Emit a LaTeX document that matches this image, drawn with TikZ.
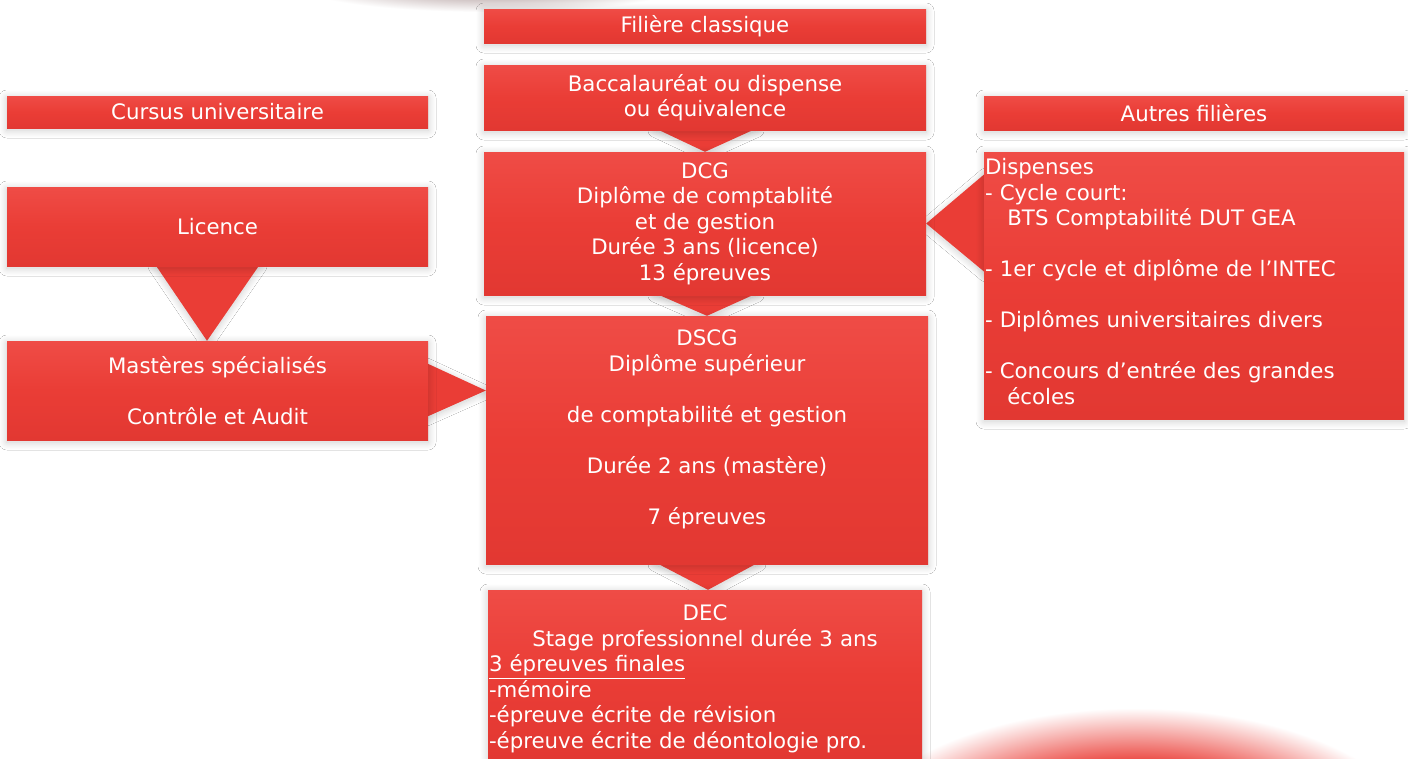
\documentclass[tikz,border=0pt]{standalone}
\usepackage{fontspec}
\setmainfont{DejaVu Sans}
\usetikzlibrary{calc,shadows.blur}
\definecolor{boxred}{RGB}{234,61,54}
\definecolor{boxtop}{RGB}{239,76,70}
\definecolor{boxbot}{RGB}{226,56,50}
\definecolor{topgray}{RGB}{205,192,192}
\pgfdeclareradialshading{glow}{\pgfpoint{0bp}{0bp}}{color(0bp)=(boxred); color(15bp)=(boxred); color(25bp)=(white); color(50bp)=(white)}
\pgfdeclareradialshading{topshade}{\pgfpoint{0bp}{0bp}}{color(0bp)=(topgray); color(12bp)=(topgray); color(25bp)=(white); color(50bp)=(white)}
\begin{document}
\begin{tikzpicture}[x=1pt,y=-1pt,
  box/.style={rectangle, inner sep=0pt, text=white,
    font=\fontsize{21.3}{25.5}\selectfont, align=center,
    top color=boxtop, bottom color=boxbot, middle color=boxred,
    blur shadow={shadow xshift=0pt, shadow yshift=-2pt, shadow blur radius=8pt, shadow opacity=20, shadow blur steps=24}},
  arr/.style={fill=boxred,
    blur shadow={shadow xshift=0pt, shadow yshift=-2pt, shadow blur radius=7pt, shadow opacity=20, shadow blur steps=20}}]
\fill[white] (0,0) rectangle (1408,758);
\useasboundingbox (0,0) rectangle (1408,758);
% background glows
\shade[shading=topshade] (490,-14) ellipse [x radius=190pt, y radius=26pt];
\shade[shading=glow] (1135,850) ellipse [x radius=290pt, y radius=142pt];

% box positions
\path
  (705,26)    coordinate (pfil)
  (705,97.5)  coordinate (pbac)
  (217.5,112) coordinate (pcur)
  (1194,113)  coordinate (paut)
  (705,223.5) coordinate (pdcg)
  (217.5,226.5) coordinate (plic)
  (217.5,390.5) coordinate (pmas)
  (707,440)   coordinate (pdscg)
  (1194,285.5) coordinate (pdisp)
  (705,675)   coordinate (pdec);

% invisible placeholders to get anchors for the arrows
\begin{scope}[every node/.style={rectangle, inner sep=0pt}]
\node[minimum width=442pt, minimum height=65pt] (bac0) at (pbac) {};
\node[minimum width=442pt, minimum height=143pt] (dcg0) at (pdcg) {};
\node[minimum width=421pt, minimum height=79pt] (lic0) at (plic) {};
\node[minimum width=421pt, minimum height=99pt] (mas0) at (pmas) {};
\node[minimum width=442pt, minimum height=248pt] (dscg0) at (pdscg) {};
\node[minimum width=420pt, minimum height=267pt] (disp0) at (pdisp) {};
\node[minimum width=434pt, minimum height=170pt] (dec0) at (pdec) {};
\end{scope}

% arrow triangles
\fill[arr] ($(bac0.south)+(-50,-2)$) -- ($(bac0.south)+(52,-2)$) -- (dcg0.north) -- cycle;
\fill[arr] ($(dcg0.south)+(-50,-2)$) -- ($(dcg0.south)+(52,-2)$) -- (dscg0.north) -- cycle;
\fill[arr] ($(dscg0.south)+(-52,-2)$) -- ($(dscg0.south)+(52,-2)$) -- ($(dec0.north)+(3,0)$) -- cycle;
\fill[arr] ($(lic0.south)+(-62.5,-2)$) -- ($(lic0.south)+(42.5,-2)$) -- ($(mas0.north)+(-10.5,0)$) -- cycle;
\fill[arr] ($(mas0.east)+(-2,-27.5)$) -- ($(mas0.east)+(-2,26.5)$) -- (mas0.east -| dscg0.west) -- cycle;
\fill[arr] ($(dcg0.east -| disp0.west)+(2,-50.5)$) -- ($(dcg0.east -| disp0.west)+(2,49.5)$) -- (dcg0.east) -- cycle;

% boxes
\node[box, minimum width=442pt, minimum height=34pt] (fil) at (pfil) {Filière classique};
\node[box, minimum width=442pt, minimum height=65pt] (bac) at (pbac) {Baccalauréat ou dispense\\ou équivalence};
\node[box, minimum width=421pt, minimum height=32pt] (cur) at (pcur) {Cursus universitaire};
\node[box, minimum width=420pt, minimum height=34pt] (aut) at (paut) {Autres filières};
\node[box, minimum width=442pt, minimum height=143pt] (dcg) at (pdcg) {DCG\\Diplôme de comptablité\\et de gestion\\Durée 3 ans (licence)\\13 épreuves};
\node[box, minimum width=421pt, minimum height=79pt] (lic) at (plic) {Licence};
\node[box, minimum width=421pt, minimum height=99pt] (mas) at (pmas) {Mastères spécialisés\\~\\Contrôle et Audit};
\node[box, minimum width=442pt, minimum height=248pt] (dscg) at (pdscg) {DSCG\\Diplôme supérieur\\~\\de comptabilité et gestion\\~\\Durée 2 ans (mastère)\\~\\7 épreuves\\~};
\node[box, minimum width=420pt, minimum height=267pt, text width=418pt, align=left] (disp) at (pdisp) {Dispenses\\- Cycle court:\\\hspace*{1.05em}BTS Comptabilité DUT GEA\\~\\- 1er cycle et diplôme de l’INTEC\\~\\- Diplômes universitaires divers\\~\\- Concours d’entrée des grandes\\\hspace*{1.05em}écoles\par\vspace*{8pt}};
\node[box, minimum width=434pt, minimum height=170pt, text width=432pt, align=left] (dec) at (pdec) {{\centering DEC\\Stage professionnel durée 3 ans\par}\underline{3 épreuves finales}\\-mémoire\\-épreuve écrite de révision\\-épreuve écrite de déontologie pro.\par\vspace*{-8pt}};
\end{tikzpicture}
\end{document}
